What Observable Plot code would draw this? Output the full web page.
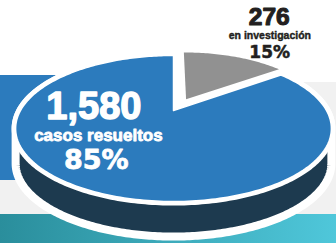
<!DOCTYPE html>
<html><head><meta charset="utf-8">
<script src="https://cdn.jsdelivr.net/npm/d3@7"></script>
<script src="https://cdn.jsdelivr.net/npm/@observablehq/plot@0.6"></script>
<style>html,body{margin:0;padding:0;background:#fff;overflow:hidden}svg{display:block}</style>
</head><body><div id="chart"></div>
<script>
// ---- data ----
const categories = ["en investigación", "casos resueltos"];
const values = [276, 1580];
const valueLabels = ["276", "1,580"];
const percentLabels = ["15%", "85%"];

// ---- layout / style ----
const W = 336, H = 243;
const X0 = 173, Y0 = 110, A = 153, B = 68.6, K = 0.2466, DEPTH = 35;
const EXPLODE = 0.19, SHRINK = 0.9;
const BLUE = "#2c7bbd", DARK = "#1d3a4f", GRAY = "#919191", INK = "#231f20";
const sliceColors = [GRAY, BLUE];
const SANS = "Liberation Sans, Arial, Helvetica, sans-serif";
const WIDE = "DejaVu Sans, Verdana, sans-serif";

// perspective projection of a point (u, v) on the unit pie plane
const projUV = (u, v) => { const d = 1 + K * v; return [X0 + A * u / d, Y0 - B * v / d]; };
const proj = (t) => projUV(Math.sin(t), Math.cos(t));

const arcs = d3.pie().sort(null)(values);

function wedge(a, id, e, s) {
  const mid = (a.startAngle + a.endAngle) / 2;
  const cu = e * Math.sin(mid), cv = e * Math.cos(mid);
  const [ax, ay] = projUV(cu, cv);
  const pts = [{id, x: ax, y: ay}];
  const n = Math.max(4, Math.ceil((a.endAngle - a.startAngle) / 0.02));
  for (let i = 0; i <= n; i++) {
    const t = a.startAngle + (a.endAngle - a.startAngle) * i / n;
    const [x, y] = projUV(cu + s * Math.sin(t), cv + s * Math.cos(t));
    pts.push({id, x, y});
  }
  pts.push({id, x: ax, y: ay});
  return pts;
}

// top ellipse
const topPts = d3.range(0, 361).map(i => { const [x, y] = proj(i / 360 * 2 * Math.PI); return {x, y}; });
// silhouette (top upper arc + bottom lower arc)
const tw = Math.acos(-K);
const sil = [];
for (let i = 0; i <= 200; i++) { const t = -tw + 2 * tw * i / 200; const [x, y] = proj(t); sil.push({x, y}); }
for (let i = 0; i <= 200; i++) { const t = tw + (2 * Math.PI - 2 * tw) * i / 200; const [x, y] = proj(t); sil.push({x, y: y + DEPTH}); }
sil.push(sil[0]);

const sliceMarks = arcs.map((a, i) => {
  const pts = i === 0 ? wedge(a, categories[i], EXPLODE, SHRINK) : wedge(a, categories[i], 0, 1);
  return Plot.line(pts, {x: "x", y: "y", fill: sliceColors[i], stroke: i === 0 ? "none" : "white", strokeWidth: 1.5, curve: "linear"});
});

const defs = () => {
  const d = d3.create("svg:defs");
  const g = d.append("linearGradient").attr("id", "teal").attr("x1", "0").attr("x2", "1").attr("y1", "0").attr("y2", "0");
  g.append("stop").attr("offset", "0").attr("stop-color", "#2a8e9c");
  g.append("stop").attr("offset", "1").attr("stop-color", "#4fc7da");
  return d.node();
};

const txt = (label, opts) => Plot.text([label], {text: d => d, textAnchor: "middle", lineAnchor: "bottom", fontWeight: "bold", ...opts});

const chart = Plot.plot({
  width: W, height: H, margin: 0,
  x: {domain: [0, W], range: [0, W], axis: null},
  y: {domain: [0, H], range: [0, H], axis: null},
  style: {background: "white"},
  marks: [
    defs,
    Plot.rect([0], {x1: 0, x2: W, y1: 82, y2: 214, fill: "#f1f1f1"}),
    Plot.rect([0], {x1: 0, x2: 170, y1: 75, y2: 180, fill: BLUE}),
    Plot.rect([0], {x1: 0, x2: W, y1: 214, y2: H, fill: "url(#teal)"}),
    Plot.line(sil, {x: "x", y: "y", fill: DARK, stroke: "white", strokeWidth: 8, curve: "linear"}),
    Plot.line(topPts, {x: "x", y: "y", fill: "white", stroke: "white", strokeWidth: 8, curve: "linear"}),
    ...sliceMarks,
    txt(valueLabels[1], {x: 93.4, y: 118.5, fontFamily: SANS, fontSize: 38, fill: "white", stroke: "white", strokeWidth: 1.4, ariaLabel: "t-v1"}),
    txt(categories[1], {x: 97.9, y: 140, fontFamily: SANS, fontSize: 17, fill: "white", stroke: "white", strokeWidth: 0.8, ariaLabel: "t-c1"}),
    txt(percentLabels[1], {x: 95.8, y: 168, fontFamily: WIDE, fontSize: 27, fill: "white", stroke: "white", strokeWidth: 0.8, ariaLabel: "t-p1"}),
    txt(valueLabels[0], {x: 268.7, y: 24, fontFamily: SANS, fontSize: 24.5, fill: INK, stroke: INK, strokeWidth: 1.1, ariaLabel: "t-v0"}),
    txt(categories[0], {x: 269.4, y: 38.8, fontFamily: SANS, fontSize: 10.5, fill: INK, stroke: INK, strokeWidth: 0.4, ariaLabel: "t-c0"}),
    txt(percentLabels[0], {x: 269.2, y: 57, fontFamily: WIDE, fontSize: 17, fill: INK, stroke: INK, strokeWidth: 0.5, ariaLabel: "t-p0"})
  ]
});

const lengths = {"t-v1": 77, "t-c1": 120, "t-p1": 57, "t-v0": 34, "t-c0": 77, "t-p0": 33};
for (const [k, len] of Object.entries(lengths)) {
  chart.querySelectorAll(`g[aria-label="${k}"] text`).forEach(t => {
    t.setAttribute("textLength", len);
    t.setAttribute("lengthAdjust", "spacingAndGlyphs");
  });
}
document.getElementById("chart").appendChild(chart);
</script>
</body></html>
